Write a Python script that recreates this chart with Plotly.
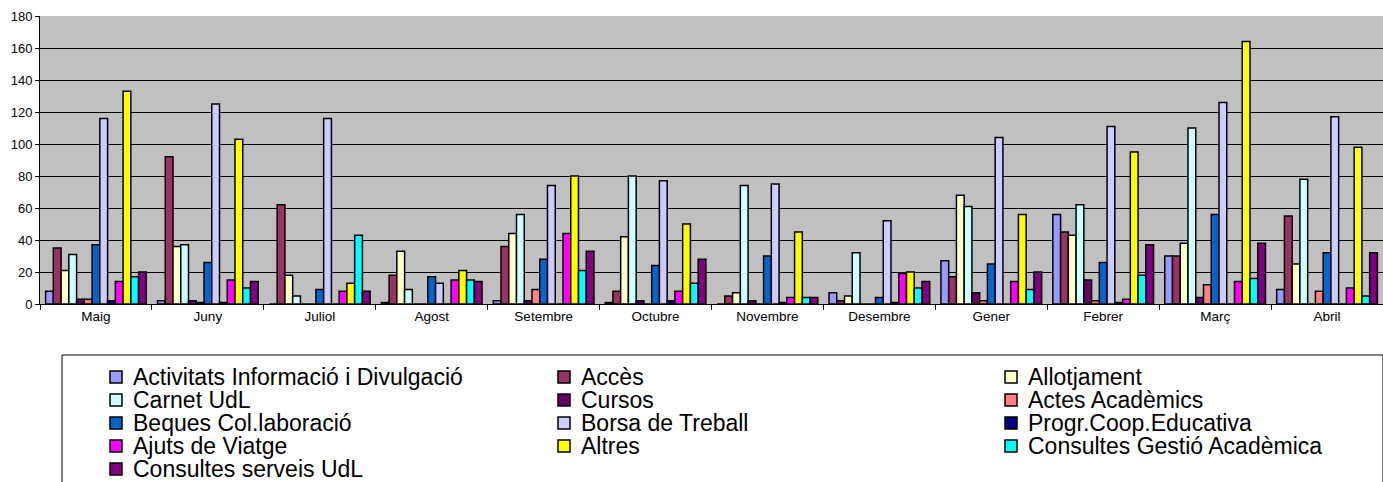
import plotly.graph_objects as go

months = ["Maig", "Juny", "Juliol", "Agost", "Setembre", "Octubre", "Novembre",
          "Desembre", "Gener", "Febrer", "Març", "Abril"]

series_names = ["Activitats Informació i Divulgació", "Accès", "Allotjament",
                "Carnet UdL", "Cursos", "Actes Acadèmics",
                "Beques Col.laboració", "Borsa de Treball", "Progr.Coop.Educativa",
                "Ajuts de Viatge", "Altres", "Consultes Gestió Acadèmica",
                "Consultes serveis UdL"]

activitats = [8, 2, 0, 1, 2, 1, 0, 7, 27, 56, 30, 9]
acces = [35, 92, 62, 18, 36, 8, 5, 2, 17, 45, 30, 55]
allotjament = [21, 36, 18, 33, 44, 42, 7, 5, 68, 43, 38, 25]
carnet = [31, 37, 5, 9, 56, 80, 74, 32, 61, 62, 110, 78]
cursos = [3, 2, 0, 0, 2, 2, 2, 0, 7, 15, 4, 0]
actes = [3, 1, 0, 0, 9, 0, 0, 0, 2, 2, 12, 8]
beques = [37, 26, 9, 17, 28, 24, 30, 4, 25, 26, 56, 32]
borsa = [116, 125, 116, 13, 74, 77, 75, 52, 104, 111, 126, 117]
progr = [2, 1, 0, 0, 0, 2, 1, 1, 0, 1, 0, 0]
ajuts = [14, 15, 8, 15, 44, 8, 4, 19, 14, 3, 14, 10]
altres = [133, 103, 13, 21, 80, 50, 45, 20, 56, 95, 164, 98]
consultes_ga = [17, 10, 43, 15, 21, 13, 4, 10, 9, 18, 16, 5]
consultes_serveis = [20, 14, 8, 14, 33, 28, 4, 14, 20, 37, 38, 32]

series_values = [activitats, acces, allotjament, carnet, cursos, actes, beques,
                 borsa, progr, ajuts, altres, consultes_ga, consultes_serveis]

colors = ["#9999FF", "#993366", "#FFFFCC", "#CCFFFF", "#660066", "#FF8080",
          "#0066CC", "#CCCCFF", "#000080", "#FF00FF", "#FFFF00", "#00FFFF",
          "#800080"]

y_ticks = [0, 20, 40, 60, 80, 100, 120, 140, 160, 180]

W, H = 1383, 482
ml, mr, mt, mb = 40, 0, 16, 178
pw = W - ml - mr
ph = H - mt - mb


def px_x(x):
    return (x - ml) / pw


def px_y(y):
    return (H - mb - y) / ph


FONT = "Liberation Sans, Arial, sans-serif"

fig = go.Figure()
for name, vals, col in zip(series_names, series_values, colors):
    fig.add_trace(go.Bar(
        x=months, y=vals, name=name, showlegend=False,
        marker=dict(color=col, line=dict(color="black", width=1.5)),
    ))

# legend frame
fig.add_shape(type="rect", xref="paper", yref="paper",
              x0=px_x(62), x1=1.0, y0=px_y(H + 20), y1=px_y(355),
              line=dict(color="black", width=1), fillcolor="white", layer="below")

# legend entries (3 columns, row-major like the original)
col_marker_x = [110, 558, 1005]
row_y = [377, 400, 423, 446, 469]
for i, (name, col) in enumerate(zip(series_names, colors)):
    r, c = divmod(i, 3)
    mx = col_marker_x[c]
    cy = row_y[r]
    fig.add_shape(type="rect", xref="paper", yref="paper",
                  x0=px_x(mx), x1=px_x(mx + 12), y0=px_y(cy + 6), y1=px_y(cy - 6),
                  line=dict(color="black", width=1.5), fillcolor=col)
    fig.add_annotation(xref="paper", yref="paper", x=px_x(mx + 21), y=px_y(cy),
                       xanchor="left", yanchor="middle", showarrow=False,
                       text=name, font=dict(size=23, color="black", family=FONT))

fig.update_layout(
    width=W, height=H,
    margin=dict(l=ml, r=mr, t=mt, b=mb, pad=0, autoexpand=False),
    paper_bgcolor="white",
    plot_bgcolor="#C0C0C0",
    barmode="group",
    bargap=0.1,
    bargroupgap=0,
    font=dict(family=FONT, color="black"),
    showlegend=False,
    xaxis=dict(
        showline=True, linecolor="black", linewidth=1,
        ticks="outside", tickson="boundaries", ticklen=5, tickcolor="black",
        tickfont=dict(size=13.5),
        showgrid=False,
    ),
    yaxis=dict(
        range=[0, 180], tickvals=y_ticks,
        showline=True, linecolor="black", linewidth=1,
        ticks="outside", ticklen=4, tickcolor="black",
        tickfont=dict(size=13),
        showgrid=True, gridcolor="black", gridwidth=1,
        zeroline=False,
    ),
)

fig.write_html("out.html",
               config={"displayModeBar": False},
               post_script="document.body.style.margin='0';"
                           "document.body.style.overflow='hidden';")
